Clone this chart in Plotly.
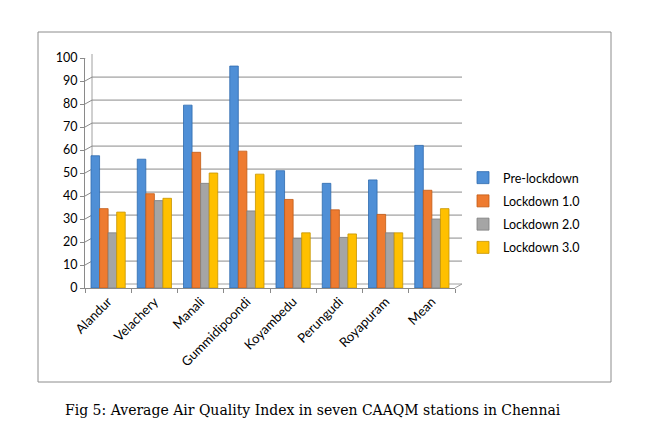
import plotly.graph_objects as go

categories = ["Alandur", "Velachery", "Manali", "Gummidipoondi", "Koyambedu",
              "Perungudi", "Royapuram", "Mean"]
pre_lockdown = [57.5, 56, 79.5, 96.5, 51, 45.5, 47, 62]
lockdown_1 = [34.5, 41, 59, 59.5, 38.5, 34, 32, 42.5]
lockdown_2 = [24, 38, 45.5, 33.5, 21.5, 22, 24, 30]
lockdown_3 = [33, 39, 50, 49.5, 24, 23.5, 24, 34.5]
series_names = ["Pre-lockdown", "Lockdown 1.0", "Lockdown 2.0", "Lockdown 3.0"]
y_ticks = list(range(0, 101, 10))
caption = "Fig 5: Average Air Quality Index in seven CAAQM stations in Chennai"

colors = ["#4F8FD6", "#EE7B30", "#A5A5A5", "#FFC000"]
edges = ["#2F6BAE", "#C25A15", "#7F7F7F", "#C79400"]

OFF = 8  # page body margin
W, H = 645, 420
L, R, T, B = 85 - OFF, 455 - OFF, 58 - OFF, 288 - OFF
pw, ph = R - L, B - T

def px(x):
    return (x - OFF - L) / pw

def py(y):
    return (B - (y - OFF)) / ph

fig = go.Figure()
for i, (name, vals) in enumerate(zip(series_names,
                                     [pre_lockdown, lockdown_1, lockdown_2, lockdown_3])):
    fig.add_trace(go.Bar(
        x=categories, y=vals, name=name,
        marker=dict(color=colors[i], line=dict(color=edges[i], width=0.8)),
        legendgroup=name,
    ))

shapes = [
    dict(type="rect", xref="paper", yref="paper",
         x0=px(38), x1=px(611), y0=py(382), y1=py(32),
         line=dict(color="#8C8C8C", width=1), fillcolor="rgba(0,0,0,0)", layer="below"),
    dict(type="line", xref="paper", yref="paper",
         x0=px(92), x1=px(462), y0=py(284), y1=py(284),
         line=dict(color="#A0A0A0", width=1), layer="below"),
    dict(type="line", xref="paper", yref="paper",
         x0=px(455), x1=px(462), y0=py(288), y1=py(284),
         line=dict(color="#A0A0A0", width=1), layer="below"),
    dict(type="line", xref="paper", yref="paper",
         x0=px(92), x1=px(92), y0=py(284), y1=py(54),
         line=dict(color="#A0A0A0", width=1), layer="below"),
]
for t in y_ticks[1:]:
    shapes.append(dict(type="line", xref="paper", yref="y",
                       x0=px(92), x1=px(462), y0=t + 1.7, y1=t + 1.7,
                       line=dict(color="#8A8A8A", width=1), layer="below"))
    shapes.append(dict(type="line", xref="paper", yref="y",
                       x0=px(85), x1=px(92), y0=t, y1=t + 1.7,
                       line=dict(color="#8A8A8A", width=1), layer="below"))

fig.update_layout(
    width=W, height=H,
    margin=dict(l=L, r=W - R, t=T, b=H - B, pad=0),
    paper_bgcolor="white", plot_bgcolor="white",
    barmode="group", bargap=0.26, bargroupgap=0,
    font=dict(family="Lato, Open Sans, sans-serif", size=11, color="#000000"),
    showlegend=True,
    legend=dict(x=px(463), y=py(163), xanchor="left", yanchor="top",
                traceorder="grouped", tracegroupgap=4,
                font=dict(size=12.5, family="Lato, sans-serif"),
                bgcolor="rgba(0,0,0,0)", itemwidth=30),
    xaxis=dict(type="category", showgrid=False, showline=True,
               linecolor="#8A8A8A", linewidth=1,
               ticks="outside", tickson="boundaries", ticklen=4, tickcolor="#8A8A8A",
               tickangle=-45, tickfont=dict(size=13)),
    yaxis=dict(range=[0, 100], tickvals=y_ticks, showgrid=False, showline=True,
               linecolor="#8A8A8A", linewidth=1, ticks="outside", ticklen=4,
               tickcolor="#8A8A8A", tickfont=dict(size=12.5), zeroline=False),
    shapes=shapes,
    annotations=[dict(text=caption, xref="paper", yref="paper",
                      x=px(63), y=py(410), xanchor="left", yanchor="middle",
                      showarrow=False,
                      font=dict(family="DejaVu Serif, serif", size=14, color="#000000"))],
)

fig.write_html("out.html")
